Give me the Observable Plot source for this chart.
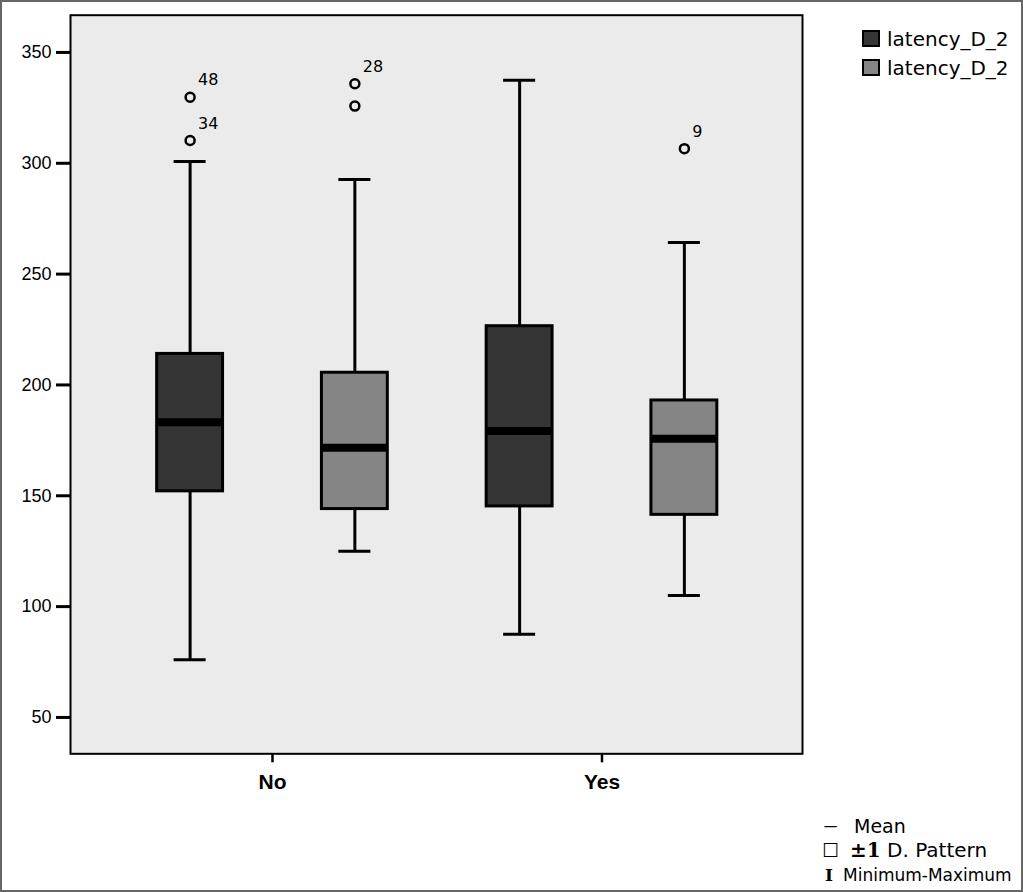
<!DOCTYPE html>
<html>
<head>
<meta charset="utf-8">
<script src="https://cdn.jsdelivr.net/npm/d3@7"></script>
<script src="https://cdn.jsdelivr.net/npm/@observablehq/plot@0.6"></script>
<style>
  html, body { margin: 0; padding: 0; background: #fff; overflow: hidden; }
  #wrap { position: relative; width: 1023px; height: 892px; }
  #border { position: absolute; left: 0; top: 0; width: 1023px; height: 892px; box-sizing: border-box; border: 2px solid #666; pointer-events: none; }
</style>
</head>
<body>
<div id="wrap"><div id="border"></div></div>
<script>
// ---- data ----
const groups = ["No", "Yes"];
const seriesNames = ["latency_D_2", "latency_D_2"];
const seriesColors = ["#353535", "#858585"];
const boxGroup = ["No", "No", "Yes", "Yes"];
const boxSeries = [0, 1, 0, 1];
const whiskerMin = [76, 125, 87.5, 105];
const q1 = [152, 144, 145.2, 141.4];
const median = [183.2, 171.7, 179.2, 175.7];
const q3 = [214, 205.5, 226.5, 193];
const whiskerMax = [300.8, 292.7, 337.4, 264.3];
const outlierBox = [0, 0, 1, 1, 3];
const outlierValue = [329.8, 310.3, 335.9, 325.8, 306.6];
const outlierLabel = ["48", "34", "28", "", "9"];
const yTicks = [50, 100, 150, 200, 250, 300, 350];
const noteSymbols = ["–", "☐", "I"];
const noteLabels = ["Mean", "±1", "Minimum-Maximum"];
const noteSuffix = ["", " D. Pattern", ""];

// ---- derived tables ----
const groupGap = 0.5, halfBox = 0.1, halfCap = 0.0486;
const boxes = boxGroup.map((g, i) => ({
  g, s: boxSeries[i],
  pos: groups.indexOf(g) + (boxSeries[i] - 0.5) * groupGap,
  min: whiskerMin[i], q1: q1[i], med: median[i], q3: q3[i], max: whiskerMax[i]
}));
const outliers = outlierBox.map((b, i) => ({ pos: boxes[b].pos, v: outlierValue[i], label: outlierLabel[i] }));

const chart = Plot.plot({
  width: 1023,
  height: 892,
  marginLeft: 70,
  marginRight: 221,
  marginTop: 14.7,
  marginBottom: 138.7,
  style: { fontFamily: "'Liberation Sans', Arial, sans-serif", color: "black", background: "transparent" },
  x: { domain: [-0.613, 1.6085] },
  y: { domain: [33.6, 366.8] },
  color: { type: "identity" },
  marks: [
    Plot.frame({ fill: "#ebebeb" }),
    Plot.ruleX(boxes, { x: "pos", y1: "q3", y2: "max", stroke: "black", strokeWidth: 3 }),
    Plot.ruleX(boxes, { x: "pos", y1: "min", y2: "q1", stroke: "black", strokeWidth: 3 }),
    Plot.ruleY(boxes, { y: "max", x1: d => d.pos - halfCap, x2: d => d.pos + halfCap, stroke: "black", strokeWidth: 3 }),
    Plot.ruleY(boxes, { y: "min", x1: d => d.pos - halfCap, x2: d => d.pos + halfCap, stroke: "black", strokeWidth: 3 }),
    Plot.rect(boxes, { x1: d => d.pos - halfBox, x2: d => d.pos + halfBox, y1: "q1", y2: "q3", fill: d => seriesColors[d.s], stroke: "black", strokeWidth: 3 }),
    Plot.ruleY(boxes, { y: "med", x1: d => d.pos - halfBox, x2: d => d.pos + halfBox, stroke: "black", strokeWidth: 8 }),
    Plot.dot(outliers, { x: "pos", y: "v", r: 4.5, stroke: "black", strokeWidth: 2.5, fill: "none" }),
    Plot.text(outliers, { x: "pos", y: "v", text: "label", dx: 8, dy: -17, textAnchor: "start", fontSize: 16, fontFamily: "'DejaVu Sans', sans-serif", fill: "black" }),
    Plot.frame({ stroke: "black", strokeWidth: 2 }),
    Plot.axisY({ ticks: yTicks, tickSize: 14, tickPadding: 5, fontSize: 18, strokeWidth: 3, label: null }),
    Plot.axisX({ ticks: [0, 1], tickFormat: i => groups[i], tickSize: 9, tickPadding: 11, fontSize: 21, fontWeight: "bold", strokeWidth: 2.5, label: null })
  ]
});
chart.style.position = "absolute";
chart.style.left = "0px";
chart.style.top = "0px";
document.getElementById("wrap").insertBefore(chart, document.getElementById("border"));

const svg = d3.select(chart);

// ---- legends ----
const leg = svg.append("g").attr("font-family", "'DejaVu Sans', Verdana, sans-serif").attr("fill", "black").attr("text-anchor", "start");
seriesNames.forEach((name, i) => {
  const y0 = 31 + i * 29;
  leg.append("rect").attr("x", 863).attr("y", y0).attr("width", 16).attr("height", 15)
    .attr("fill", seriesColors[i]).attr("stroke", "black").attr("stroke-width", 2);
  leg.append("text").attr("x", 887).attr("y", y0 + 15).attr("font-size", 20).text(name);
});

const note = svg.append("g").attr("font-family", "'DejaVu Sans', Verdana, sans-serif").attr("fill", "black").attr("text-anchor", "start");
// Mean (symbol drawn as text scaled wide)
note.append("text").attr("x", 823).attr("y", 832).attr("font-size", 19)
  .attr("transform", "translate(823,0) scale(1.6,1) translate(-823,0)").text(noteSymbols[0]);
note.append("text").attr("x", 854).attr("y", 833).attr("font-size", 19).text(noteLabels[0]);
// ±1 D. Pattern
note.append("text").attr("x", 822).attr("y", 857).attr("font-size", 19).text(noteSymbols[1]);
const t2 = note.append("text").attr("x", 850).attr("y", 857).attr("font-size", 20);
t2.append("tspan").attr("font-weight", "bold").attr("font-family", "'DejaVu Serif', serif").text(noteLabels[1]);
t2.append("tspan").text(noteSuffix[1]);
// Minimum-Maximum
note.append("text").attr("x", 825).attr("y", 881).attr("font-size", 17).attr("font-weight", "bold").attr("font-family", "'DejaVu Serif', serif").text(noteSymbols[2]);
note.append("text").attr("x", 843).attr("y", 881).attr("font-size", 17).text(noteLabels[2]);
</script>
</body>
</html>
